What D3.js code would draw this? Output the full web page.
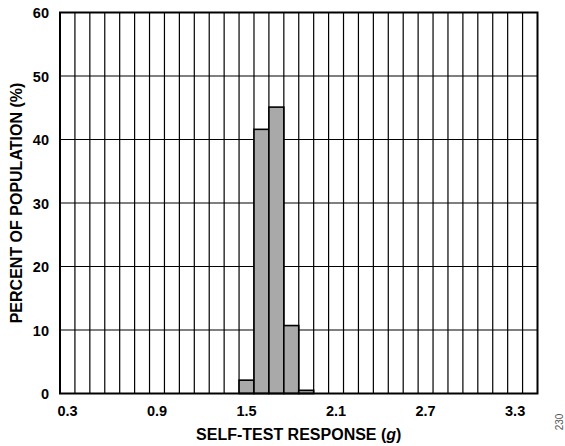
<!DOCTYPE html>
<meta charset="utf-8">
<style>
	body { margin: 0; background: #fff; }
	text { font-family: "Liberation Sans", Arial, sans-serif; font-weight: bold; fill: #000; }
	.grid line { stroke: #000; stroke-width: 1.2px; }
	.bar { fill: #a9a9a9; stroke: #000; stroke-width: 1.6px; }
	.frame { fill: none; stroke: #000; stroke-width: 2px; }
</style>
<svg width="565" height="446"></svg>
<script src="https://cdn.jsdelivr.net/npm/d3@7"></script>
<script>

// bins of self-test response (g), 0.1 g wide
var bins = ["0.3","0.4","0.5","0.6","0.7","0.8","0.9","1.0","1.1","1.2","1.3","1.4","1.5","1.6","1.7","1.8",
	"1.9","2.0","2.1","2.2","2.3","2.4","2.5","2.6","2.7","2.8","2.9","3.0","3.1","3.2","3.3","3.4"];
var barBins = ["1.5", "1.6", "1.7", "1.8", "1.9"];
var percent = [2.1, 41.6, 45.1, 10.7, 0.5];
var xTickLabels = ["0.3", "0.9", "1.5", "2.1", "2.7", "3.3"];
var yTicks = [0, 10, 20, 30, 40, 50, 60];

var svg = d3.select("svg"),
	margin = {top: 12.5, right: 27.5, bottom: 52.5, left: 60},
	width = svg.attr("width") - margin.left - margin.right,
	height = svg.attr("height") - margin.top - margin.bottom,
	g = svg.append("g").attr("transform", "translate(" + margin.left + "," + margin.top + ")");

var x = d3.scaleBand().domain(bins).range([0, width]),
	y = d3.scaleLinear().domain([0, 60]).range([height, 0]);

// grid
var grid = g.append("g").attr("class", "grid");
grid.selectAll(".v").data(bins.slice(1)).enter().append("line")
	.attr("x1", function(d) { return x(d); })
	.attr("x2", function(d) { return x(d); })
	.attr("y1", 0).attr("y2", height);
grid.selectAll(".h").data(yTicks.slice(1, -1)).enter().append("line")
	.attr("x1", 0).attr("x2", width)
	.attr("y1", function(d) { return y(d); })
	.attr("y2", function(d) { return y(d); });

// bars
g.selectAll(".bar").data(percent).enter().append("rect")
	.attr("class", "bar")
	.attr("x", function(d, i) { return x(barBins[i]); })
	.attr("width", x.bandwidth())
	.attr("y", function(d) { return y(d); })
	.attr("height", function(d) { return height - y(d); });

g.append("rect").attr("class", "frame").attr("width", width).attr("height", height);

// axes
var yAxis = g.append("g")
	.call(d3.axisLeft(y).tickValues(yTicks).tickSize(0).tickPadding(11));
yAxis.select(".domain").remove();
yAxis.selectAll("text").style("font-size", "14.5px").attr("dy", "0.36em");

var xAxis = g.append("g")
	.attr("transform", "translate(0," + height + ")")
	.call(d3.axisBottom(x).tickValues(xTickLabels).tickSize(0).tickPadding(12));
xAxis.select(".domain").remove();
xAxis.selectAll("text").style("font-size", "14.5px");

// titles
svg.append("text")
	.attr("transform", "translate(22," + (margin.top + height / 2) + ") rotate(-90)")
	.attr("text-anchor", "middle")
	.style("font-size", "16px")
	.text("PERCENT OF POPULATION (%)");

var xt = svg.append("text")
	.attr("x", margin.left + width / 2)
	.attr("y", 440)
	.attr("text-anchor", "middle")
	.style("font-size", "16px");
xt.append("tspan").text("SELF-TEST RESPONSE (");
xt.append("tspan").style("font-style", "italic").text("g");
xt.append("tspan").text(")");

svg.append("text")
	.attr("transform", "translate(563,422) rotate(-90)")
	.attr("text-anchor", "middle")
	.style("font-size", "10px")
	.style("font-weight", "normal")
	.style("fill", "#555")
	.text("230");

</script>
